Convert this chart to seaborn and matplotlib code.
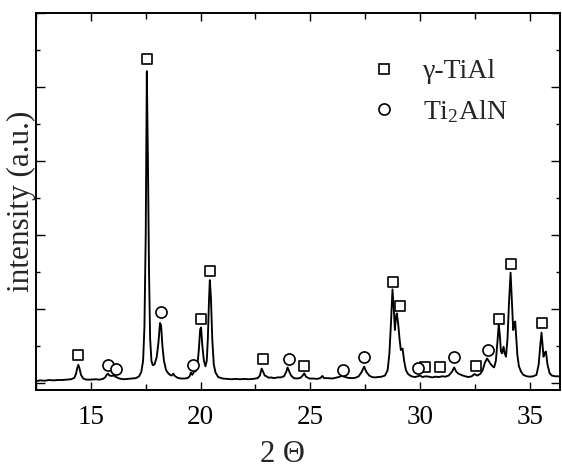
import matplotlib
matplotlib.use("Agg")
import matplotlib.pyplot as plt
import seaborn as sns
import pandas as pd
from matplotlib.ticker import MultipleLocator, NullFormatter
from matplotlib.lines import Line2D

# ---- data ----
two_theta = [12.5, 12.7, 12.9, 13.1, 13.3, 13.5, 13.7, 13.9, 14.1, 14.25,
             14.32, 14.38, 14.43, 14.48, 14.55, 14.65, 14.8, 15.0, 15.2, 15.4,
             15.55, 15.65, 15.72, 15.78, 15.85, 15.95, 16.05, 16.15, 16.3, 16.5,
             16.7, 16.9, 17.05, 17.2, 17.3, 17.38, 17.44, 17.5, 17.55, 17.6,
             17.65, 17.7, 17.76, 17.82, 17.9, 18.0, 18.08, 18.15, 18.2, 18.26,
             18.33, 18.42, 18.5, 18.6, 18.68, 18.76, 18.82, 18.95, 19.1, 19.25,
             19.4, 19.5, 19.56, 19.62, 19.7, 19.78, 19.85, 19.92, 19.98, 20.02,
             20.08, 20.15, 20.22, 20.28, 20.33, 20.38, 20.42, 20.47, 20.53, 20.6,
             20.68, 20.8, 21.0, 21.2, 21.4, 21.6, 21.8, 22.0, 22.2, 22.4,
             22.6, 22.7, 22.78, 22.85, 22.92, 23.0, 23.1, 23.2, 23.35, 23.5,
             23.65, 23.8, 23.9, 23.96, 24.03, 24.12, 24.25, 24.4, 24.55, 24.65,
             24.72, 24.8, 24.95, 25.1, 25.3, 25.45, 25.55, 25.62, 25.8, 26.0,
             26.15, 26.3, 26.42, 26.55, 26.7, 26.9, 27.05, 27.2, 27.32, 27.45,
             27.55, 27.68, 27.8, 27.95, 28.1, 28.25, 28.4, 28.52, 28.6, 28.67,
             28.74, 28.8, 28.85, 28.9, 28.94, 29.0, 29.06, 29.12, 29.2, 29.27,
             29.35, 29.45, 29.6, 29.75, 29.9, 30.0, 30.1, 30.25, 30.4, 30.55,
             30.7, 30.85, 31.0, 31.15, 31.3, 31.45, 31.55, 31.65, 31.75, 31.9,
             32.05, 32.2, 32.35, 32.48, 32.6, 32.75, 32.85, 32.95, 33.05, 33.12,
             33.2, 33.3, 33.37, 33.45, 33.52, 33.58, 33.63, 33.68, 33.73, 33.8,
             33.85, 33.91, 33.98, 34.05, 34.12, 34.18, 34.24, 34.29, 34.33, 34.38,
             34.43, 34.5, 34.6, 34.7, 34.85, 35.0, 35.15, 35.3, 35.4, 35.47,
             35.53, 35.58, 35.62, 35.68, 35.73, 35.8, 35.9, 36.0, 36.15, 36.3,
             36.45]
intensity = [0.05, 0.07, 0.06, 0.08, 0.07, 0.08, 0.08, 0.09, 0.10, 0.14,
             0.24, 0.40, 0.49, 0.40, 0.22, 0.12, 0.09, 0.09, 0.10, 0.09,
             0.11, 0.15, 0.22, 0.25, 0.20, 0.19, 0.20, 0.16, 0.12, 0.10,
             0.11, 0.12, 0.13, 0.18, 0.30, 0.60, 1.50, 4.00, 8.43, 6.00,
             3.00, 1.20, 0.60, 0.48, 0.50, 0.70, 1.10, 1.62, 1.55, 1.00,
             0.60, 0.36, 0.28, 0.22, 0.20, 0.25, 0.19, 0.14, 0.12, 0.12,
             0.13, 0.18, 0.28, 0.22, 0.30, 0.32, 0.45, 0.90, 1.45, 1.50,
             1.00, 0.60, 0.45, 0.60, 1.20, 2.20, 2.78, 2.30, 1.20, 0.50,
             0.28, 0.16, 0.12, 0.11, 0.10, 0.11, 0.10, 0.11, 0.10, 0.11,
             0.13, 0.20, 0.39, 0.30, 0.20, 0.18, 0.14, 0.15, 0.13, 0.15,
             0.15, 0.18, 0.30, 0.42, 0.32, 0.20, 0.13, 0.12, 0.14, 0.20,
             0.26, 0.17, 0.12, 0.12, 0.11, 0.13, 0.19, 0.13, 0.13, 0.12,
             0.14, 0.16, 0.19, 0.17, 0.14, 0.13, 0.14, 0.18, 0.28, 0.44,
             0.30, 0.20, 0.16, 0.15, 0.16, 0.17, 0.20, 0.35, 0.80, 1.60,
             2.53, 2.00, 1.43, 1.80, 1.88, 1.60, 1.20, 0.89, 0.93, 0.60,
             0.35, 0.24, 0.18, 0.16, 0.18, 0.20, 0.16, 0.18, 0.17, 0.15,
             0.17, 0.16, 0.18, 0.17, 0.20, 0.30, 0.42, 0.30, 0.25, 0.21,
             0.18, 0.16, 0.18, 0.24, 0.20, 0.25, 0.35, 0.55, 0.66, 0.60,
             0.52, 0.45, 0.42, 0.60, 1.10, 1.57, 1.30, 0.85, 0.80, 0.98,
             0.80, 0.71, 1.20, 2.20, 2.98, 2.20, 1.43, 1.60, 1.66, 1.20,
             0.75, 0.45, 0.30, 0.22, 0.18, 0.17, 0.18, 0.22, 0.50, 1.00,
             1.36, 1.00, 0.71, 0.82, 0.85, 0.50, 0.26, 0.20, 0.18, 0.18,
             0.17]

tial_x = [14.42, 17.54, 20.0, 20.43, 22.82, 24.72, 28.75, 29.08, 30.23, 30.91, 32.54, 33.6, 34.13, 35.55]
tial_y = [0.76, 8.75, 1.72, 3.03, 0.64, 0.47, 2.73, 2.08, 0.42, 0.42, 0.45, 1.72, 3.22, 1.63]

ti2aln_x = [15.76, 16.14, 18.2, 19.66, 24.03, 26.47, 27.45, 29.92, 31.55, 33.07]
ti2aln_y = [0.49, 0.39, 1.93, 0.49, 0.64, 0.35, 0.69, 0.40, 0.69, 0.89]

legend_labels = ["γ-TiAl", "Ti$_{\\mathrm{2}}$AlN"]
x_label = "2 Θ"
y_label = "intensity (a.u.)"

# ---- style ----
serif = "Liberation Serif"
sns.set_style("ticks")
plt.rcParams["font.family"] = [serif, "DejaVu Serif"]
plt.rcParams["mathtext.fontset"] = "custom"
plt.rcParams["mathtext.rm"] = serif
plt.rcParams["mathtext.it"] = serif + ":italic"

fig = plt.figure(figsize=(5.62, 4.68), dpi=100)
ax = fig.add_axes([0.064, 0.1667, 0.9324, 0.8055])

df = pd.DataFrame({"x": two_theta, "y": intensity})
sns.lineplot(data=df, x="x", y="y", ax=ax, color="black", linewidth=1.35,
             sort=False, estimator=None, zorder=2)

sns.scatterplot(x=tial_x, y=tial_y, ax=ax, marker="s", s=58,
                facecolor="white", edgecolor="black", linewidth=1.2, zorder=3)
sns.scatterplot(x=ti2aln_x, y=ti2aln_y, ax=ax, marker="o", s=64,
                facecolor="white", edgecolor="black", linewidth=1.2, zorder=3)

ax.set_xlim(12.5, 36.37)
ax.set_ylim(-0.19, 10.0)

ax.xaxis.set_major_locator(MultipleLocator(5))
ax.xaxis.set_minor_locator(MultipleLocator(2.5))
ax.yaxis.set_major_locator(MultipleLocator(2))
ax.yaxis.set_minor_locator(MultipleLocator(1))
ax.yaxis.set_major_formatter(NullFormatter())

ax.tick_params(which="both", direction="in", top=True, right=True, width=1.0,
               labelsize=19.5, colors="black")
ax.tick_params(axis="x", which="major", length=6, pad=11)
ax.tick_params(axis="x", which="minor", length=4)
ax.tick_params(axis="y", which="major", length=6.5)
ax.tick_params(axis="y", which="minor", length=3.2)

for sp in ax.spines.values():
    sp.set_linewidth(1.4)
    sp.set_color("black")

ax.set_xlabel(x_label, fontsize=22)
ax.set_ylabel(y_label, fontsize=22.5)
ax.xaxis.set_label_coords(0.471, -0.132)
ax.yaxis.set_label_coords(0.0, 0.5)

handles = [
    Line2D([], [], marker="s", linestyle="none", markersize=7.6,
           markerfacecolor="white", markeredgecolor="black", markeredgewidth=1.2),
    Line2D([], [], marker="o", linestyle="none", markersize=8.0,
           markerfacecolor="white", markeredgecolor="black", markeredgewidth=1.2),
]
ax.legend(handles, legend_labels, loc="upper left", bbox_to_anchor=(0.600, 0.93),
          frameon=False, fontsize=20, handlelength=1.0, handletextpad=0.9,
          labelspacing=0.5, borderpad=0.2)

fig.savefig("out.png", dpi=100)
